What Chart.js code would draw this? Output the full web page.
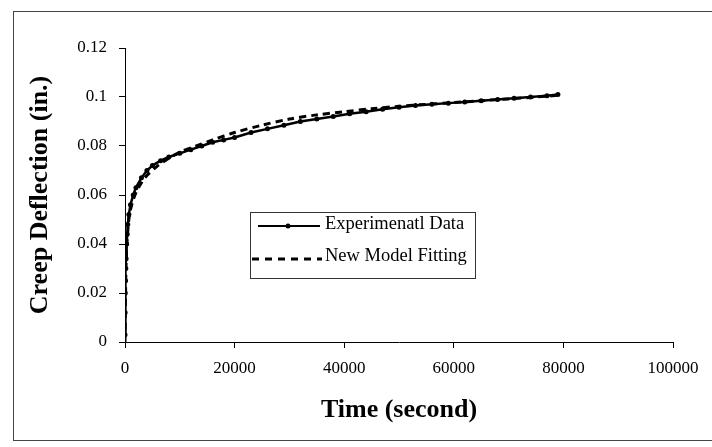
<!DOCTYPE html>
<html>
<head>
<meta charset="utf-8">
<script src="https://cdn.jsdelivr.net/npm/chart.js@4/dist/chart.umd.min.js"></script>
<style>
  html, body { margin: 0; padding: 0; background: #fff; }
  #wrap { position: relative; width: 712px; height: 447px; }
  #frame { position: absolute; left: 13px; top: 11px; width: 720px; height: 428px;
           border: 1px solid #444; border-right: none; }
  canvas { position: absolute; left: 0; top: 0; }
</style>
</head>
<body>
<div id="wrap">
  <div id="frame"></div>
  <canvas id="myChart" width="712" height="447"></canvas>
</div>
<script>
// Experimental creep readings (time in s, deflection in in.)
var expTime = [0, 20, 50, 100, 150, 200, 300, 400, 500, 700, 1000, 1500, 2000, 3000, 4000, 5000, 6500, 8000,
  10000, 12000, 14000, 16000, 18000, 20000, 23000, 26000, 29000, 32000, 35000, 38000, 41000, 44000, 47000,
  50000, 53000, 56000, 59000, 62000, 65000, 68000, 71000, 74000, 77000, 79000];
var expDefl = [0.003, 0.012, 0.020, 0.025, 0.030, 0.034, 0.040, 0.044, 0.048, 0.052, 0.056, 0.060, 0.063, 0.067,
  0.070, 0.072, 0.074, 0.0755, 0.077, 0.0785, 0.080, 0.0815, 0.0825, 0.0835, 0.0855, 0.087, 0.0885, 0.090, 0.091,
  0.092, 0.0932, 0.094, 0.095, 0.0958, 0.0965, 0.097, 0.0975, 0.098, 0.0985, 0.099, 0.0995, 0.100, 0.1005, 0.101];

// Model fitting curve
var modelTime = [0, 50, 100, 200, 400, 700, 1000, 1500, 2000, 3000, 4000, 6000, 8000, 10000, 13000, 16000,
  20000, 25000, 30000, 35000, 40000, 45000, 50000, 55000, 60000, 65000, 70000, 75000, 79000];
var modelDefl = [0, 0.010, 0.020, 0.032, 0.042, 0.050, 0.054, 0.058, 0.061, 0.065, 0.068, 0.072, 0.075, 0.0775,
  0.080, 0.0825, 0.0855, 0.0885, 0.091, 0.0927, 0.094, 0.0952, 0.0962, 0.097, 0.0977, 0.0985, 0.0992, 0.100, 0.1007];

var legendLabels = ['Experimenatl Data', 'New Model Fitting'];

function toPoints(xs, ys) {
  return xs.map(function (x, i) { return { x: x, y: ys[i] }; });
}

var serif = '"Liberation Serif", "Times New Roman", serif';

// legend box drawn inside the plot, like the original
var boxLegend = {
  id: 'boxLegend',
  afterDatasetsDraw: function (chart) {
    var c = chart.ctx, a = chart.chartArea;
    var bx = a.left + 125, by = a.top + 164, bw = 225, bh = 66;
    c.save();
    c.fillStyle = '#fff';
    c.fillRect(bx, by, bw, bh);
    c.strokeStyle = '#333';
    c.lineWidth = 1;
    c.strokeRect(bx + 0.5, by + 0.5, bw, bh);
    c.strokeStyle = '#000';
    c.fillStyle = '#000';
    // solid sample with marker
    c.lineWidth = 2;
    c.beginPath(); c.moveTo(bx + 8, by + 14); c.lineTo(bx + 70, by + 14); c.stroke();
    c.beginPath(); c.arc(bx + 38, by + 14, 2.5, 0, Math.PI * 2); c.fill();
    // dashed sample
    c.lineWidth = 3;
    c.setLineDash([7, 6]);
    c.beginPath(); c.moveTo(bx + 2, by + 47); c.lineTo(bx + 72, by + 47); c.stroke();
    c.setLineDash([]);
    c.font = '18.5px ' + serif;
    c.textBaseline = 'middle';
    c.fillText(legendLabels[0], bx + 75, by + 12);
    c.fillText(legendLabels[1], bx + 75, by + 44);
    c.restore();
  }
};

var ctx = document.getElementById('myChart');
var myChart = new Chart(ctx, {
  type: 'scatter',
  data: {
    datasets: [
      {
        data: toPoints(expTime, expDefl),
        label: legendLabels[0],
        showLine: true,
        borderColor: '#000',
        backgroundColor: '#000',
        borderWidth: 2.5,
        pointRadius: 2.5,
        pointBorderWidth: 0
      },
      {
        data: toPoints(modelTime, modelDefl),
        label: legendLabels[1],
        showLine: true,
        borderColor: '#000',
        borderWidth: 3,
        borderDash: [7, 5],
        pointRadius: 0,
        tension: 0.3
      }
    ]
  },
  options: {
    responsive: false,
    animation: false,
    layout: { padding: { left: 10, top: 48, right: 39, bottom: 10 } },
    plugins: { legend: { display: false }, tooltip: { enabled: false } },
    scales: {
      x: {
        type: 'linear',
        min: 0, max: 100000,
        afterFit: function (s) { s.height = 95; },
        ticks: {
          stepSize: 20000,
          color: '#000',
          padding: 10,
          font: { family: serif, size: 17 },
          callback: function (v) { return String(v); }
        },
        grid: { drawOnChartArea: false, drawTicks: true, tickLength: 6, color: '#000' },
        border: { display: true, color: '#000', width: 1 },
        title: {
          display: true,
          text: 'Time (second)',
          color: '#000',
          padding: { top: 0, bottom: 11 },
          font: { family: serif, size: 26, weight: 'bold' }
        }
      },
      y: {
        min: 0, max: 0.12,
        afterFit: function (s) { s.width = 115; },
        ticks: {
          stepSize: 0.02,
          color: '#000',
          padding: 12,
          font: { family: serif, size: 17 },
          callback: function (v) { return String(+v.toFixed(2)); }
        },
        grid: { drawOnChartArea: false, drawTicks: true, tickLength: 6, color: '#000' },
        border: { display: true, color: '#000', width: 1 },
        title: {
          display: true,
          text: 'Creep Deflection (in.)',
          color: '#000',
          padding: { top: 15, bottom: 0 },
          font: { family: serif, size: 26, weight: 'bold' }
        }
      }
    }
  },
  plugins: [boxLegend]
});
</script>
</body>
</html>
